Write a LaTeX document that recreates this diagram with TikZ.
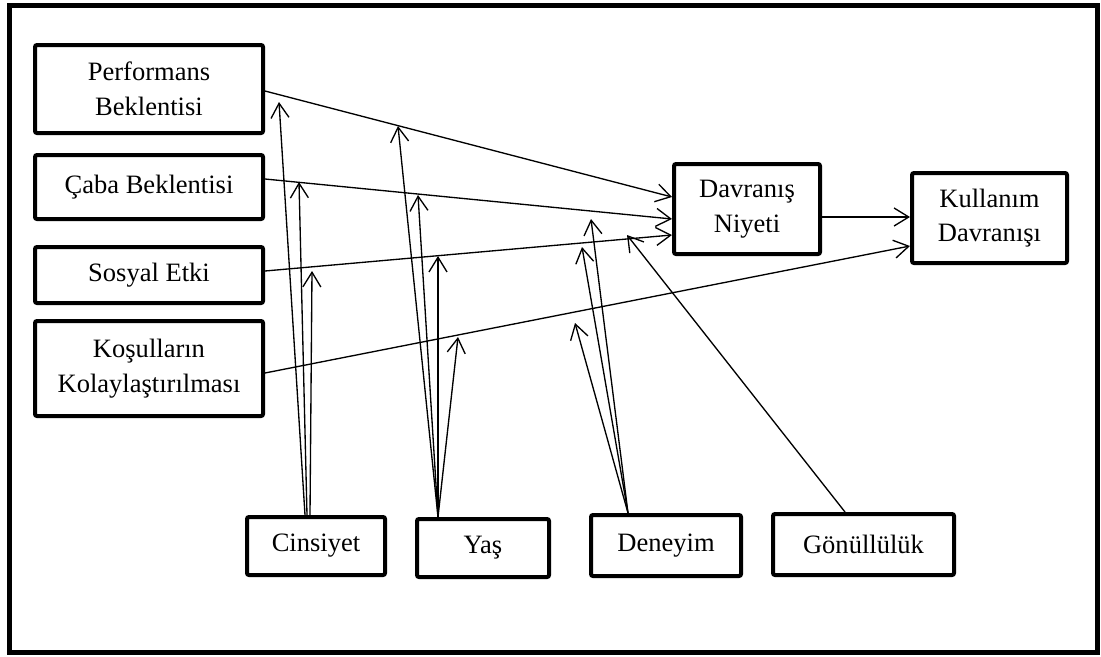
\documentclass[tikz,border=0pt]{standalone}
\usepackage{fontspec}
\setmainfont{Liberation Serif}
\usetikzlibrary{arrows.meta,calc}
\begin{document}
\begin{tikzpicture}[x=0.75pt,y=-0.75pt,
  box/.style={draw,line width=3pt,rounded corners=1.5pt,align=center,inner sep=0pt,
    font=\fontsize{19.9}{26}\selectfont},
  link/.style={line width=1pt,-{Straight Barb[length=11pt,width=13.5pt]}},
  plain/.style={line width=1pt}]
\useasboundingbox (0,0) rectangle (1101,657);
% outer frame
\draw[line width=3.75pt] (9.5,5.5) rectangle (1097.5,652);

% predictor boxes
\node[box,minimum width=171pt,minimum height=66pt]    (perf) at (149,89)    {Performans\\Beklentisi};
\node[box,minimum width=171pt,minimum height=48pt]    (caba) at (149,187)   {Çaba Beklentisi};
\node[box,minimum width=171pt,minimum height=42pt]    (sos)  at (149,275)   {Sosyal Etki};
\node[box,minimum width=171pt,minimum height=71.25pt] (kos)  at (149,368.5) {Koşulların\\Kolaylaştırılması};

% outcome boxes
\node[box,minimum width=109.5pt,minimum height=67.5pt]  (dn) at (747,209)   {Davranış\\Niyeti};
\node[box,minimum width=116.25pt,minimum height=67.5pt] (kd) at (989.5,218) {Kullanım\\Davranışı};

% moderator boxes
\node[box,minimum width=103.5pt,minimum height=43.5pt]   (cin) at (316,546)     {Cinsiyet};
\node[box,minimum width=99pt,minimum height=43.5pt]      (yas) at (483,548)     {Yaş};
\node[box,minimum width=112.5pt,minimum height=45.75pt]  (den) at (666,545.5)   {Deneyim};
\node[box,minimum width=135.75pt,minimum height=45.75pt] (gon) at (863.5,544.5) {Gönüllülük};

% main paths
\draw[link] ($(perf.east)+(0,2)$) -- ($(dn.west)+(0,-12)$);
\draw[link] ($(caba.east)+(0,-8)$) -- ($(dn.west)+(0,10)$);
\draw[link] ($(sos.east)+(0,-4)$) -- ($(dn.west)+(0,26)$);
\draw[link] ($(kos.east)+(0,4.5)$) -- ($(kd.west)+(0,28)$);
\draw[link] ($(dn.east)+(0,8)$) -- ($(kd.west)+(0,-1)$);

% points where the moderating effects meet the paths
\coordinate (c1) at (279,102);
\coordinate (c2) at (299,182);
\coordinate (c3) at (312,271);
\coordinate (y1) at (398,126);
\coordinate (y2) at (418,195);
\coordinate (y3) at (438,256);
\coordinate (y4) at (458,337);
\coordinate (d1) at (591,219);
\coordinate (d2) at (582,247);
\coordinate (d3) at (575,323);
\coordinate (g1) at (627,235);

% moderating effects
\draw[link] ($(cin.north)+(-11,0)$) -- (c1);
\draw[link] ($(cin.north)+(-9,0)$) -- (c2);
\draw[link] ($(cin.north)+(-6,0)$) -- (c3);
\draw[link] ($(yas.north)+(-45,0)$) -- (y1);
\draw[link] ($(yas.north)+(-45,0)$) -- (y2);
\draw[link] ($(yas.north)+(-45,0)$) -- (y3);
\draw[link] ($(yas.north)+(-45,0)$) -- (y4);
\draw[link] ($(den.north)+(-38,0)$) -- (d1);
\draw[link] ($(den.north)+(-38,0)$) -- (d2);
\draw[link] ($(den.north)+(-38,0)$) -- (d3);
\draw[link] ($(gon.north)+(-18.5,0)$) -- (g1);
\end{tikzpicture}
\end{document}
